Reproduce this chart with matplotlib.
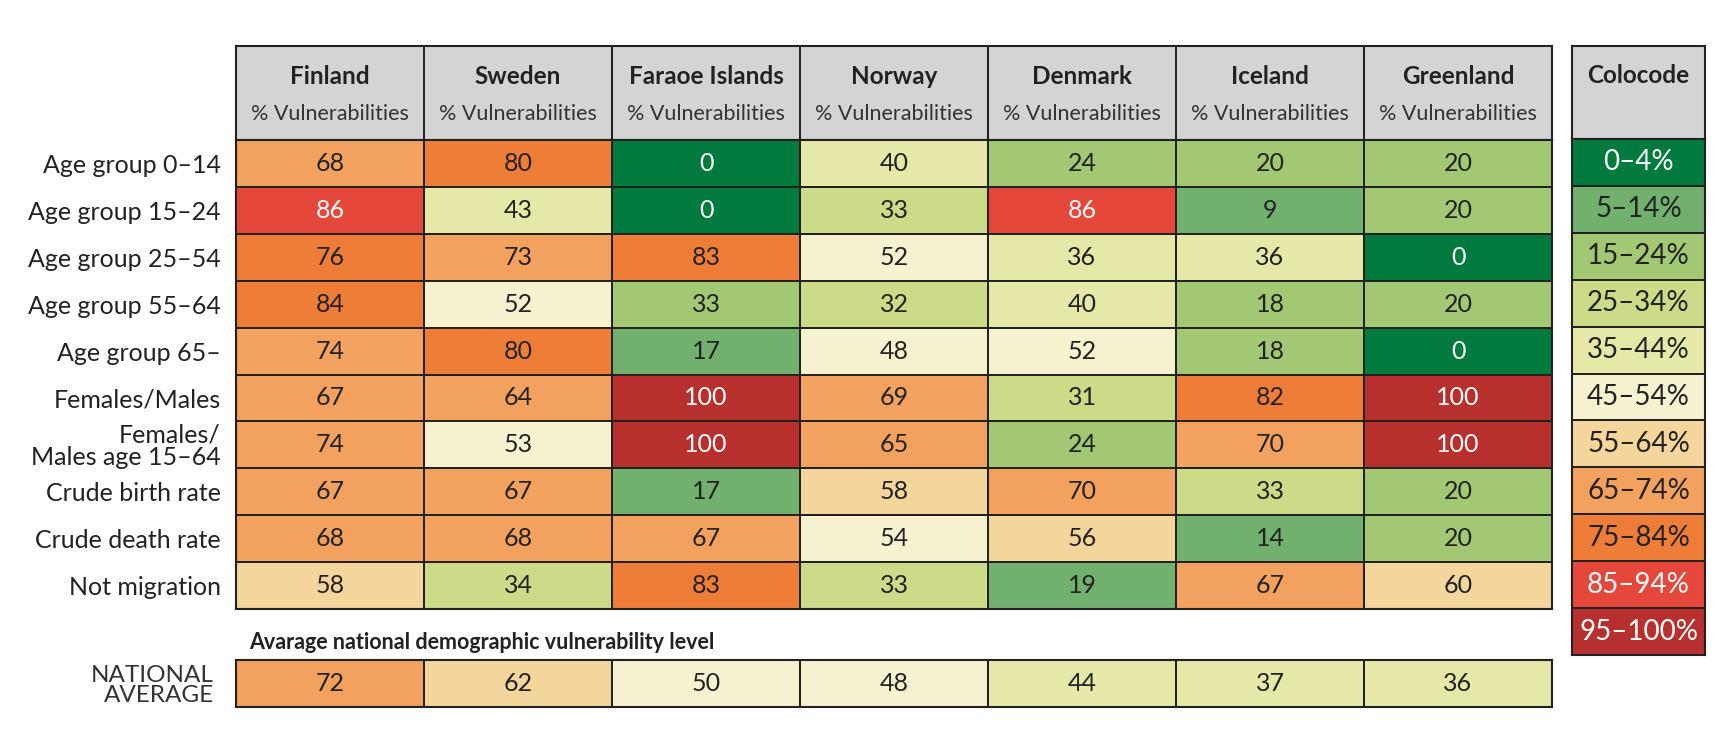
import numpy as np
import matplotlib
matplotlib.use("Agg")
import matplotlib.pyplot as plt
from matplotlib.colors import ListedColormap, BoundaryNorm

plt.rcParams['font.family'] = ['Lato', 'DejaVu Sans']

# data
countries = ["Finland", "Sweden", "Faraoe Islands", "Norway", "Denmark", "Iceland", "Greenland"]
row_labels = ["Age group 0–14", "Age group 15–24", "Age group 25–54", "Age group 55–64",
              "Age group 65–", "Females/Males", "Females/\nMales age 15–64",
              "Crude birth rate", "Crude death rate", "Not migration"]

values = [
    [68, 80, 0, 40, 24, 20, 20],
    [86, 43, 0, 33, 86, 9, 20],
    [76, 73, 83, 52, 36, 36, 0],
    [84, 52, 33, 32, 40, 18, 20],
    [74, 80, 17, 48, 52, 18, 0],
    [67, 64, 100, 69, 31, 82, 100],
    [74, 53, 100, 65, 24, 70, 100],
    [67, 67, 17, 58, 70, 33, 20],
    [68, 68, 67, 54, 56, 14, 20],
    [58, 34, 83, 33, 19, 67, 60],
]
# colour class of each cell as printed (index into colocode bands)
classes = [
    [7, 8, 0, 4, 2, 2, 2],
    [9, 4, 0, 3, 9, 1, 2],
    [8, 7, 8, 5, 4, 4, 0],
    [8, 5, 2, 3, 4, 2, 2],
    [7, 8, 1, 5, 5, 2, 0],
    [7, 7, 10, 7, 3, 8, 10],
    [7, 5, 10, 7, 2, 7, 10],
    [7, 7, 1, 6, 7, 3, 2],
    [7, 7, 7, 5, 6, 1, 2],
    [6, 3, 8, 3, 1, 7, 6],
]
national_avg = [72, 62, 50, 48, 44, 37, 36]
national_cls = [7, 6, 5, 5, 4, 4, 4]

bands = ["0–4%", "5–14%", "15–24%", "25–34%", "35–44%", "45–54%",
         "55–64%", "65–74%", "75–84%", "85–94%", "95–100%"]
band_colors = ["#007a3d", "#72b06e", "#a3c874", "#cbdb87", "#e6e8a8", "#f6f1cf",
               "#f4d59c", "#f3a15e", "#ee7d37", "#e5483a", "#b8302d"]
white_text = {0, 9, 10}

cmap = ListedColormap(band_colors)
norm = BoundaryNorm(np.arange(-0.5, 11.5, 1), cmap.N)
EDGE = "#222222"
TXT = "#222222"
GRAY = "#d4d4d4"

W, H = 1735, 740
fig = plt.figure(figsize=(W / 100, H / 100), dpi=100)


def px_axes(x0, y0, x1, y1):
    ax = fig.add_axes([x0 / W, 1 - y1 / H, (x1 - x0) / W, (y1 - y0) / H])
    for s in ax.spines.values():
        s.set_visible(False)
    ax.set_xticks([])
    ax.set_yticks([])
    return ax


def frame(ax):
    for s in ax.spines.values():
        s.set_visible(True)
        s.set_color(EDGE)
        s.set_linewidth(1.5)


def draw_grid(ax, cls, vals, size=18):
    cls = np.atleast_2d(cls)
    nr, nc = cls.shape
    ax.pcolormesh(np.arange(nc + 1), np.arange(nr + 1), cls, cmap=cmap, norm=norm,
                  edgecolors=EDGE, linewidth=1.3)
    ax.set_xlim(0, nc)
    ax.set_ylim(nr, 0)
    for i in range(nr):
        for j in range(nc):
            c = "white" if cls[i, j] in white_text else TXT
            ax.text(j + 0.5, i + 0.5, vals[i][j], ha="center", va="center",
                    fontsize=size, color=c)
    frame(ax)


# header
ax_h = px_axes(236, 46, 1552, 140)
ax_h.pcolormesh(np.arange(len(countries) + 1), [0, 1], np.zeros((1, len(countries))),
                cmap=ListedColormap([GRAY]), edgecolors=EDGE, linewidth=1.3)
ax_h.set_xlim(0, len(countries))
ax_h.set_ylim(1, 0)
frame(ax_h)
for j, name in enumerate(countries):
    ax_h.text(j + 0.5, 0.32, name, ha="center", va="center", fontsize=17.5,
              fontweight="bold", color=TXT)
    ax_h.text(j + 0.5, 0.72, "% Vulnerabilities", ha="center", va="center",
              fontsize=15.5, color="#333333")

# main table
ax = px_axes(236, 140, 1552, 609)
draw_grid(ax, classes, values)
ax.set_yticks(np.arange(len(row_labels)) + 0.5)
ax.set_yticklabels(row_labels, fontsize=18, color=TXT)
ax.tick_params(axis="y", length=0, pad=11)
for lab in ax.get_yticklabels():
    lab.set_linespacing(0.95)

# national average
ax.text(0.01, -0.05, "Avarage national demographic vulnerability level",
        transform=ax.transAxes, ha="left", va="top", fontsize=15.5,
        fontweight="bold", color=TXT)
ax_n = px_axes(236, 660, 1552, 707)
draw_grid(ax_n, [national_cls], [national_avg])
ax_n.set_yticks([0.5])
ax_n.set_yticklabels(["NATIONAL\nAVERAGE"], fontsize=17.5, color="#333333")
ax_n.tick_params(axis="y", length=0, pad=16)
for lab in ax_n.get_yticklabels():
    lab.set_linespacing(0.95)

# colocode legend
ax_lh = px_axes(1572, 46, 1705, 139)
ax_lh.set_facecolor(GRAY)
frame(ax_lh)
ax_lh.text(0.5, 0.68, "Colocode", transform=ax_lh.transAxes, ha="center",
           va="center", fontsize=17.5, fontweight="bold", color=TXT)

ax_l = px_axes(1572, 139, 1705, 655)
band_idx = np.arange(len(bands)).reshape(-1, 1)
draw_grid(ax_l, band_idx, [[b] for b in bands], size=20)

fig.savefig("out.png", dpi=100, facecolor="white")
